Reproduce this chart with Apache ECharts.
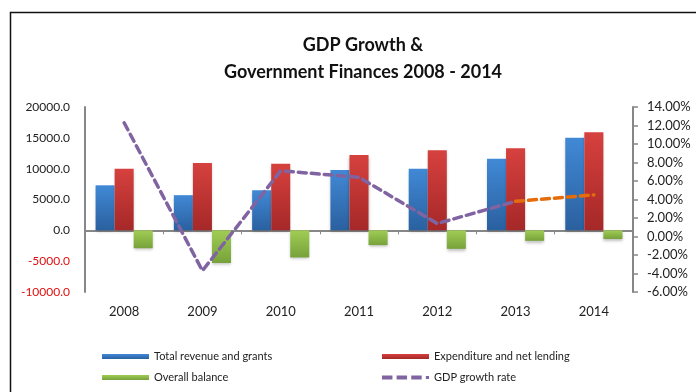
<!DOCTYPE html>
<html>
<head>
<meta charset="utf-8">
<script src="https://cdn.jsdelivr.net/npm/echarts@6/dist/echarts.min.js"></script>
<style>
  html, body { margin: 0; padding: 0; background: #fff; }
  #chart { width: 696px; height: 392px; }
</style>
</head>
<body>
<div id="chart"></div>
<script>
// Fiscal years shown on the category axis
const years = ['2008', '2009', '2010', '2011', '2012', '2013', '2014'];

// Government finances (left axis)
const revenue = [7300, 5700, 6500, 9800, 10000, 11600, 15000];
const expenditure = [10000, 10900, 10800, 12200, 13000, 13300, 15900];
const balance = [-2900, -5300, -4400, -2400, -3000, -1700, -1400];

// GDP growth in percent (right axis); 2014 is a projection drawn separately
const gdpGrowth = [12.3, -3.7, 7.1, 6.4, 1.4, 3.8, null];
const gdpProjection = [null, null, null, null, null, 3.8, 4.5];

const seriesNames = ['Total revenue and grants', 'Expenditure and net lending', 'Overall balance', 'GDP growth rate'];

const font = 'Lato, "Open Sans", sans-serif';
const axisGrey = '#878787';
const purple = '#8064a2';

function grad(top, bottom) {
  return new echarts.graphic.LinearGradient(0, 0, 0, 1, [
    { offset: 0, color: top },
    { offset: 1, color: bottom }
  ]);
}

const barShadow = { shadowColor: 'rgba(0,0,0,0.25)', shadowBlur: 3, shadowOffsetY: 2 };

// dashed legend key: three dashes and a dot
const dashIcon = 'path://M0,0h10v4h-10z M14,0h10v4h-10z M28,0h10v4h-10z M42,0.5h3v3h-3z';

const chart = echarts.init(document.getElementById('chart'), null, { renderer: 'canvas' });

chart.setOption({
  animation: false,
  backgroundColor: '#fff',
  textStyle: { fontFamily: font },
  graphic: [{
    type: 'rect',
    shape: { x: 10.5, y: 12.5, width: 700, height: 400 },
    style: { fill: 'none', stroke: '#111', lineWidth: 1.5 },
    z: 100
  }],
  title: {
    text: 'GDP Growth &\nGovernment Finances 2008 - 2014',
    left: 358,
    top: 27,
    textAlign: 'center',
    textStyle: { fontFamily: font, fontSize: 18, fontWeight: 'bold', color: '#111', lineHeight: 27 }
  },
  legend: [{
    data: [seriesNames[0], seriesNames[2]],
    orient: 'vertical',
    left: 97,
    top: 346,
    itemWidth: 47,
    itemHeight: 5,
    itemGap: 10,
    icon: 'rect',
    textStyle: { fontFamily: font, fontSize: 11, color: '#222' }
  }, {
    data: [
      { name: seriesNames[1], icon: 'rect' },
      { name: seriesNames[3], icon: dashIcon, itemStyle: { color: purple } }
    ],
    orient: 'vertical',
    left: 377,
    top: 346,
    itemWidth: 47,
    itemHeight: 5,
    itemGap: 10,
    textStyle: { fontFamily: font, fontSize: 11, color: '#222' }
  }],
  grid: { left: 85, right: 63, top: 107, height: 185, containLabel: false },
  xAxis: [{
    type: 'category',
    data: years,
    axisLine: { onZero: true, onZeroAxisIndex: 0, lineStyle: { color: axisGrey, width: 2 } },
    axisTick: { show: true, length: 4, lineStyle: { color: axisGrey } },
    axisLabel: { show: false }
  }, {
    // center ticks on the zero line
    type: 'category',
    data: years,
    axisLine: { onZero: true, onZeroAxisIndex: 0, lineStyle: { color: axisGrey, width: 2 } },
    axisTick: { show: true, alignWithLabel: true, length: 4, lineStyle: { color: axisGrey } },
    axisLabel: { show: false }
  }, {
    // year labels along the bottom of the plot
    type: 'category',
    data: years,
    position: 'bottom',
    axisLine: { show: false, onZero: false },
    axisTick: { show: false },
    axisLabel: { margin: 13, fontFamily: font, fontSize: 13, color: '#222' }
  }],
  yAxis: [{
    type: 'value',
    min: -10000,
    max: 20000,
    interval: 5000,
    axisLine: { show: true, lineStyle: { color: axisGrey, width: 2 } },
    axisTick: { show: false },
    splitLine: { show: false },
    axisLabel: {
      margin: 15,
      fontFamily: font,
      fontSize: 12,
      formatter: v => v.toFixed(1),
      color: v => (Number(v) < 0 ? '#e01010' : '#222')
    }
  }, {
    type: 'value',
    min: -6,
    max: 14,
    interval: 2,
    position: 'right',
    axisLine: { show: true, lineStyle: { color: axisGrey, width: 2 } },
    axisTick: { show: true, length: 5, lineStyle: { color: axisGrey, width: 1.5 } },
    splitLine: { show: false },
    axisLabel: {
      margin: 14,
      fontFamily: font,
      fontSize: 13,
      color: '#222',
      formatter: v => v.toFixed(2) + '%'
    }
  }],
  series: [{
    name: seriesNames[0],
    type: 'bar',
    data: revenue,
    barGap: '0%',
    barCategoryGap: '27%',
    itemStyle: Object.assign({ color: grad('#4189d6', '#2a609f') }, barShadow)
  }, {
    name: seriesNames[1],
    type: 'bar',
    data: expenditure,
    itemStyle: Object.assign({ color: grad('#d6413e', '#a52828') }, barShadow)
  }, {
    name: seriesNames[2],
    type: 'bar',
    data: balance,
    itemStyle: Object.assign({ color: grad('#a0cc55', '#77a23a') }, barShadow)
  }, {
    name: seriesNames[3],
    type: 'line',
    yAxisIndex: 1,
    data: gdpGrowth,
    symbol: 'none',
    z: 5,
    itemStyle: { color: purple },
    lineStyle: { color: purple, width: 3.5, type: [8, 5], cap: 'round' }
  }, {
    name: 'GDP growth projection',
    type: 'line',
    yAxisIndex: 1,
    data: gdpProjection,
    symbol: 'none',
    z: 5,
    itemStyle: { color: '#e46c0a' },
    lineStyle: { color: '#e46c0a', width: 3.5, type: [8, 5], cap: 'round' }
  }]
});
</script>
</body>
</html>
